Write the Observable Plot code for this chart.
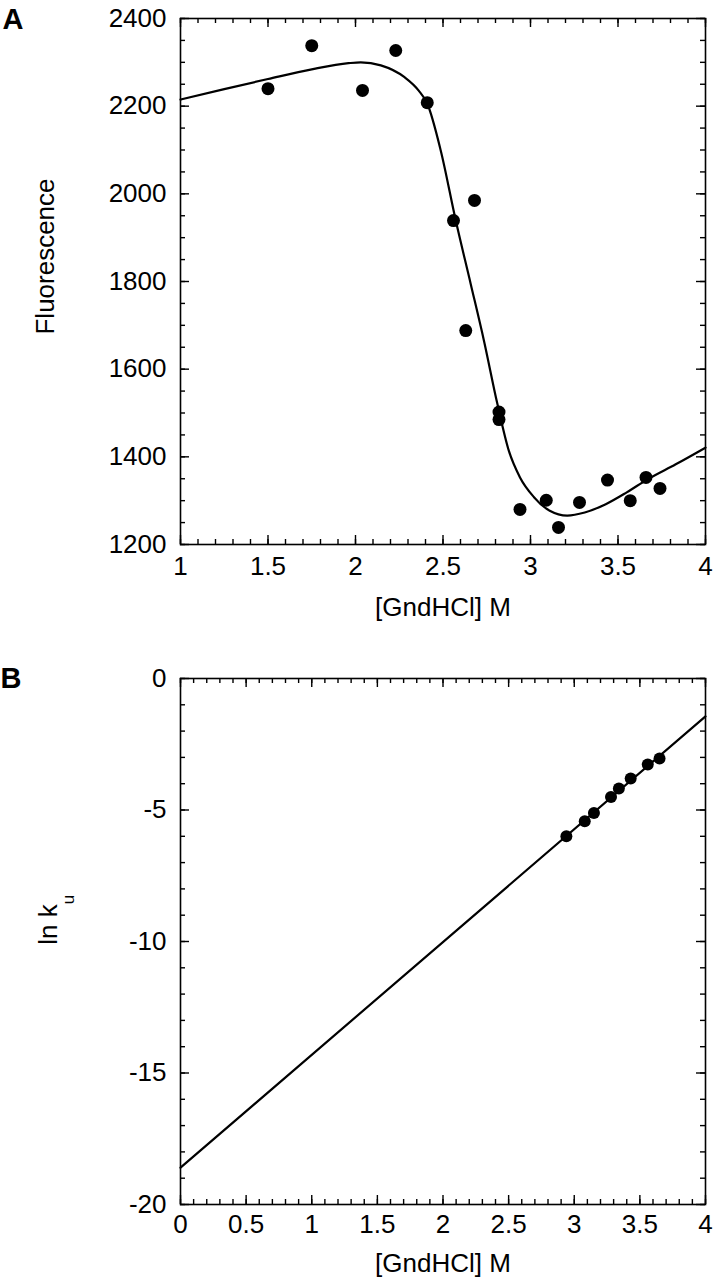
<!DOCTYPE html>
<html><head><meta charset="utf-8">
<script src="https://cdn.jsdelivr.net/npm/d3@7"></script>
<script src="https://cdn.jsdelivr.net/npm/@observablehq/plot@0.6"></script>
<style>body{margin:0;background:#fff} #chart svg{display:block}</style>
</head><body><div id="chart"></div>
<script>
// ---- Panel A: fluorescence vs [GndHCl]
const aPointsX = [1.50, 1.75, 2.04, 2.23, 2.41, 2.56, 2.63, 2.68, 2.82, 2.82, 2.94, 3.09, 3.16, 3.28, 3.44, 3.57, 3.66, 3.74];
const aPointsY = [2240, 2338, 2236, 2327, 2208, 1939, 1688, 1985, 1502, 1485, 1280, 1301, 1239, 1296, 1347, 1300, 1353, 1328];
const aFitX = [1, 1.25, 1.5, 1.75, 1.96, 2.03, 2.145, 2.28, 2.36, 2.41, 2.487, 2.573, 2.658, 2.734, 2.81, 2.876, 2.94, 3.02, 3.11, 3.21, 3.31, 3.43, 3.55, 3.67, 3.83, 4];
const aFitY = [2215, 2239, 2262, 2284, 2298, 2300, 2293, 2266, 2236, 2206, 2099, 1939, 1795, 1665, 1522, 1414, 1353, 1308, 1277, 1266, 1273, 1292, 1319, 1349, 1383, 1421];
const aXTicks = [1, 1.5, 2, 2.5, 3, 3.5, 4];
const aYTicks = [1200, 1400, 1600, 1800, 2000, 2200, 2400];

// ---- Panel B: ln ku vs [GndHCl]
const bPointsX = [2.94, 3.08, 3.15, 3.28, 3.34, 3.43, 3.56, 3.65];
const bPointsY = [-6.00, -5.43, -5.11, -4.51, -4.18, -3.80, -3.27, -3.04];
const bFitX = [0, 4];
const bFitY = [-18.6, -1.44];
const bXTicks = [0, 0.5, 1, 1.5, 2, 2.5, 3, 3.5, 4];
const bYTicks = [-20, -15, -10, -5, 0];

const FONT = "'Liberation Sans', Arial, Helvetica, sans-serif";
const FS = 26;
const W = 713, H = 640, ML = 180, MR = 8, INNER_H = 526;
const MAJOR = 9, MINOR = 5;

function frameTicks(xMaj, xMin, yMaj, yMin) {
  const innerW = W - ML - MR;
  const mk = [];
  for (const [vals, len] of [[xMaj, MAJOR], [xMin, MINOR]]) {
    mk.push(Plot.tickX(vals, {x: d => d, insetTop: INNER_H - len, strokeWidth: 1.4}));
    mk.push(Plot.tickX(vals, {x: d => d, insetBottom: INNER_H - len, strokeWidth: 1.4}));
  }
  for (const [vals, len] of [[yMaj, MAJOR], [yMin, MINOR]]) {
    mk.push(Plot.tickY(vals, {y: d => d, insetRight: innerW - len, strokeWidth: 1.4}));
    mk.push(Plot.tickY(vals, {y: d => d, insetLeft: innerW - len, strokeWidth: 1.4}));
  }
  return mk;
}

const fmt = d => String(d);

// Panel A
const aIdx = d3.range(aPointsX.length);
const aFitIdx = d3.range(aFitX.length);
const aXMinor = d3.range(10, 41).map(v => v / 10);
const aYMinor = d3.range(1200, 2401, 50);

const plotA = Plot.plot({
  width: W, height: H,
  marginLeft: ML, marginRight: MR, marginTop: 18, marginBottom: H - 18 - INNER_H,
  style: {fontFamily: FONT, fontSize: FS + "px", background: "#fff", color: "#000"},
  x: {domain: [1, 4], axis: null, label: null},
  y: {domain: [1200, 2400], axis: null, label: null},
  marks: [
    ...frameTicks(aXTicks, aXMinor, aYTicks, aYMinor),
    Plot.frame({stroke: "#000", strokeWidth: 1.6}),
    Plot.axisX(aXTicks, {tickSize: 0, tickPadding: 12, tickFormat: fmt, fontSize: FS}),
    Plot.axisY(aYTicks, {tickSize: 0, tickPadding: 14, tickFormat: fmt, fontSize: FS}),
    Plot.line(aFitIdx, {x: i => aFitX[i], y: i => aFitY[i], curve: "monotone-x", stroke: "#000", strokeWidth: 2.2}),
    Plot.dot(aIdx, {x: i => aPointsX[i], y: i => aPointsY[i], r: 6.5, fill: "#000", stroke: "none"}),
    Plot.text(["[GndHCl] M"], {frameAnchor: "bottom", dy: 63, lineAnchor: "middle", textAnchor: "middle", fontSize: FS, fill: "#000"}),
    Plot.text(["Fluorescence"], {frameAnchor: "left", rotate: -90, dx: -135, dy: -25, textAnchor: "middle", lineAnchor: "middle", fontSize: FS, fill: "#000"}),
    Plot.text(["A"], {frameAnchor: "top-left", dx: -178, dy: 10, textAnchor: "start", lineAnchor: "bottom", fontSize: 29, fontWeight: "bold", fill: "#000"})
  ]
});

// Panel B
const bIdx = d3.range(bPointsX.length);
const bFitIdx = d3.range(bFitX.length);
const bXMinor = d3.range(0, 41).map(v => v / 10);
const bYMinor = d3.range(-20, 1, 1);

const plotB = Plot.plot({
  width: W, height: H,
  marginLeft: ML, marginRight: MR, marginTop: 38, marginBottom: H - 38 - INNER_H,
  style: {fontFamily: FONT, fontSize: FS + "px", background: "#fff", color: "#000"},
  x: {domain: [0, 4], axis: null, label: null},
  y: {domain: [-20, 0], axis: null, label: null},
  marks: [
    ...frameTicks(bXTicks, bXMinor, bYTicks, bYMinor),
    Plot.frame({stroke: "#000", strokeWidth: 1.6}),
    Plot.axisX(bXTicks, {tickSize: 0, tickPadding: 10, tickFormat: fmt, fontSize: FS}),
    Plot.axisY(bYTicks, {tickSize: 0, tickPadding: 14, tickFormat: fmt, fontSize: FS}),
    Plot.line(bFitIdx, {x: i => bFitX[i], y: i => bFitY[i], stroke: "#000", strokeWidth: 2.2}),
    Plot.dot(bIdx, {x: i => bPointsX[i], y: i => bPointsY[i], r: 6, fill: "#000", stroke: "none"}),
    Plot.text(["[GndHCl] M"], {frameAnchor: "bottom", dy: 59, lineAnchor: "middle", textAnchor: "middle", fontSize: FS, fill: "#000"}),
    Plot.text(["ln k"], {frameAnchor: "left", rotate: -90, dx: -132, dy: -17, textAnchor: "middle", lineAnchor: "middle", fontSize: FS, fill: "#000"}),
    Plot.text(["u"], {frameAnchor: "left", rotate: -90, dx: -112, dy: -42, textAnchor: "middle", lineAnchor: "middle", fontSize: 17, fill: "#000"}),
    Plot.text(["B"], {frameAnchor: "top-left", dx: -180, dy: 9, textAnchor: "start", lineAnchor: "bottom", fontSize: 29, fontWeight: "bold", fill: "#000"})
  ]
});

document.getElementById("chart").append(plotA, plotB);
</script>
</body></html>
